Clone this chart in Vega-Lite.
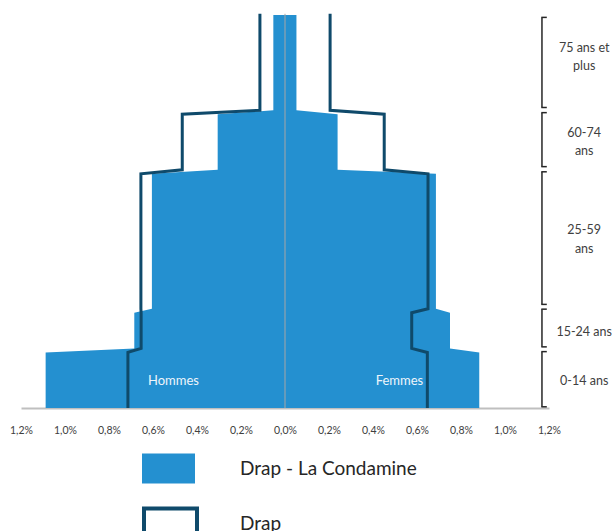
{
  "$schema": "https://vega.github.io/schema/vega-lite/v6.json",
  "width": 528,
  "height": 393,
  "autosize": {"type": "none"},
  "padding": {"left": 21, "top": 15, "right": 65, "bottom": 123},
  "background": "white",
  "config": {
    "view": {"stroke": null},
    "font": "Lato"
  },
  "datasets": {
    "pyramide": [
      {"serie": "Drap - La Condamine", "sexe": "Hommes", "age": 0, "pct": -1.088},
      {"serie": "Drap - La Condamine", "sexe": "Hommes", "age": 14, "pct": -1.088},
      {"serie": "Drap - La Condamine", "sexe": "Hommes", "age": 15, "pct": -0.685},
      {"serie": "Drap - La Condamine", "sexe": "Hommes", "age": 24, "pct": -0.685},
      {"serie": "Drap - La Condamine", "sexe": "Hommes", "age": 25, "pct": -0.605},
      {"serie": "Drap - La Condamine", "sexe": "Hommes", "age": 59, "pct": -0.605},
      {"serie": "Drap - La Condamine", "sexe": "Hommes", "age": 60, "pct": -0.306},
      {"serie": "Drap - La Condamine", "sexe": "Hommes", "age": 74, "pct": -0.306},
      {"serie": "Drap - La Condamine", "sexe": "Hommes", "age": 75, "pct": -0.053},
      {"serie": "Drap - La Condamine", "sexe": "Hommes", "age": 99, "pct": -0.053},
      {"serie": "Drap - La Condamine", "sexe": "Femmes", "age": 0, "pct": 0.883},
      {"serie": "Drap - La Condamine", "sexe": "Femmes", "age": 14, "pct": 0.883},
      {"serie": "Drap - La Condamine", "sexe": "Femmes", "age": 15, "pct": 0.75},
      {"serie": "Drap - La Condamine", "sexe": "Femmes", "age": 24, "pct": 0.75},
      {"serie": "Drap - La Condamine", "sexe": "Femmes", "age": 25, "pct": 0.686},
      {"serie": "Drap - La Condamine", "sexe": "Femmes", "age": 59, "pct": 0.686},
      {"serie": "Drap - La Condamine", "sexe": "Femmes", "age": 60, "pct": 0.239},
      {"serie": "Drap - La Condamine", "sexe": "Femmes", "age": 74, "pct": 0.239},
      {"serie": "Drap - La Condamine", "sexe": "Femmes", "age": 75, "pct": 0.052},
      {"serie": "Drap - La Condamine", "sexe": "Femmes", "age": 99, "pct": 0.052},
      {"serie": "Drap", "sexe": "Hommes", "age": 0, "pct": -0.714},
      {"serie": "Drap", "sexe": "Hommes", "age": 14, "pct": -0.714},
      {"serie": "Drap", "sexe": "Hommes", "age": 15, "pct": -0.654},
      {"serie": "Drap", "sexe": "Hommes", "age": 24, "pct": -0.654},
      {"serie": "Drap", "sexe": "Hommes", "age": 25, "pct": -0.655},
      {"serie": "Drap", "sexe": "Hommes", "age": 59, "pct": -0.655},
      {"serie": "Drap", "sexe": "Hommes", "age": 60, "pct": -0.467},
      {"serie": "Drap", "sexe": "Hommes", "age": 74, "pct": -0.467},
      {"serie": "Drap", "sexe": "Hommes", "age": 75, "pct": -0.114},
      {"serie": "Drap", "sexe": "Hommes", "age": 99.3, "pct": -0.114},
      {"serie": "Drap", "sexe": "Femmes", "age": 0, "pct": 0.647},
      {"serie": "Drap", "sexe": "Femmes", "age": 14, "pct": 0.647},
      {"serie": "Drap", "sexe": "Femmes", "age": 15, "pct": 0.576},
      {"serie": "Drap", "sexe": "Femmes", "age": 24, "pct": 0.576},
      {"serie": "Drap", "sexe": "Femmes", "age": 25, "pct": 0.65},
      {"serie": "Drap", "sexe": "Femmes", "age": 59, "pct": 0.65},
      {"serie": "Drap", "sexe": "Femmes", "age": 60, "pct": 0.451},
      {"serie": "Drap", "sexe": "Femmes", "age": 74, "pct": 0.451},
      {"serie": "Drap", "sexe": "Femmes", "age": 75, "pct": 0.205},
      {"serie": "Drap", "sexe": "Femmes", "age": 99.3, "pct": 0.205}
    ],
    "tranches": [
      {"tranche": "75 ans et\nplus", "debut": 75.7, "fin": 98.4, "age_label": 90.7},
      {"tranche": "60-74\nans", "debut": 60.8, "fin": 74.4, "age_label": 69.3},
      {"tranche": "25-59\nans", "debut": 26.1, "fin": 59.5, "age_label": 44.8},
      {"tranche": "15-24 ans", "debut": 15.4, "fin": 24.9, "age_label": 19.1},
      {"tranche": "0-14 ans", "debut": 0.3, "fin": 14.2, "age_label": 6.8}
    ],
    "sexes": [
      {"texte": "Hommes", "pct": -0.507, "age": 6.8},
      {"texte": "Femmes", "pct": 0.52, "age": 6.8}
    ]
  },
  "layer": [
    {
      "data": {"name": "pyramide"},
      "transform": [{"filter": "datum.serie === 'Drap - La Condamine'"}],
      "mark": {"type": "area", "orient": "horizontal", "opacity": 1},
      "encoding": {
        "y": {"field": "age", "type": "quantitative", "scale": {"domain": [0, 99], "nice": false, "zero": false}, "axis": null},
        "x": {"field": "pct", "type": "quantitative", "stack": null,
              "scale": {"domain": [-1.2, 1.2], "nice": false},
              "axis": {
                "values": [-1.2, -1.0, -0.8, -0.6, -0.4, -0.2, 0, 0.2, 0.4, 0.6, 0.8, 1.0, 1.2],
                "labelExpr": "replace(format(abs(datum.value), '.1f'), '.', ',') + '%'",
                "title": null,
                "grid": false,
                "ticks": false,
                "domainColor": "#BFBFBF",
                "domainWidth": 2,
                "labelFont": "Lato",
                "labelFontSize": 10.5,
                "labelColor": "#404040",
                "labelPadding": 17,
                "labelFlush": false,
                "labelOverlap": false
              }},
        "detail": {"field": "sexe"},
        "fill": {
          "field": "serie", "type": "nominal",
          "scale": {"domain": ["Drap - La Condamine"], "range": ["#2490D0"]},
          "legend": {
            "title": null,
            "orient": "none",
            "direction": "vertical",
            "legendX": 121,
            "legendY": 427,
            "padding": 0,
            "symbolType": "M-1,-0.566H1V0.566H-1Z",
            "symbolSize": 2809,
            "symbolStrokeWidth": 0,
            "symbolOpacity": 1,
            "labelFont": "Lato",
            "labelFontSize": 19,
            "labelColor": "#262626",
            "labelOffset": 45,
            "labelLimit": 0
          }
        }
      }
    },
    {
      "data": {"name": "pyramide"},
      "mark": {"type": "rule", "color": "#A6A6A6", "strokeWidth": 1},
      "transform": [{"filter": "datum.serie === 'Drap' && datum.sexe === 'Hommes' && (datum.age === 0 || datum.age > 99)"}],
      "encoding": {
        "x": {"datum": 0},
        "y": {"aggregate": "min", "field": "age", "type": "quantitative"},
        "y2": {"aggregate": "max", "field": "age"}
      }
    },
    {
      "data": {"name": "pyramide"},
      "transform": [{"filter": "datum.serie === 'Drap'"}],
      "mark": {"type": "line", "strokeWidth": 3, "strokeJoin": "miter", "strokeCap": "butt"},
      "encoding": {
        "y": {"field": "age", "type": "quantitative"},
        "x": {"field": "pct", "type": "quantitative"},
        "order": {"field": "age", "type": "quantitative"},
        "detail": {"field": "sexe"},
        "stroke": {
          "field": "serie", "type": "nominal",
          "scale": {"domain": ["Drap"], "range": ["#0F4A6B"]},
          "legend": {
            "title": null,
            "orient": "none",
            "direction": "vertical",
            "legendX": 121,
            "legendY": 480,
            "padding": 0,
            "symbolType": "M-1,-0.566H1V0.566H-1Z",
            "symbolSize": 2809,
            "symbolStrokeWidth": 4,
            "symbolFillColor": "#ffffff",
            "symbolOpacity": 1,
            "labelFont": "Lato",
            "labelFontSize": 19,
            "labelColor": "#262626",
            "labelOffset": 41,
            "labelLimit": 0
          }
        }
      }
    },
    {
      "data": {"name": "sexes"},
      "mark": {"type": "text", "color": "#EEF5FB", "fontSize": 13, "font": "Lato", "align": "center", "baseline": "middle"},
      "encoding": {
        "x": {"field": "pct", "type": "quantitative"},
        "y": {"field": "age", "type": "quantitative"},
        "text": {"field": "texte"}
      }
    },
    {
      "data": {"name": "tranches"},
      "mark": {"type": "rule", "color": "#262626", "strokeWidth": 1.5},
      "encoding": {
        "x": {"datum": 1.168},
        "y": {"field": "debut", "type": "quantitative"},
        "y2": {"field": "fin"}
      }
    },
    {
      "data": {"name": "tranches"},
      "mark": {"type": "rule", "color": "#262626", "strokeWidth": 1.5},
      "encoding": {
        "x": {"datum": 1.165},
        "x2": {"datum": 1.19},
        "y": {"field": "debut", "type": "quantitative"}
      }
    },
    {
      "data": {"name": "tranches"},
      "mark": {"type": "rule", "color": "#262626", "strokeWidth": 1.5},
      "encoding": {
        "x": {"datum": 1.165},
        "x2": {"datum": 1.19},
        "y": {"field": "fin", "type": "quantitative"}
      }
    },
    {
      "data": {"name": "tranches"},
      "mark": {"type": "text", "color": "#404040", "fontSize": 12.5, "font": "Lato", "align": "center", "baseline": "middle", "lineBreak": "\n", "lineHeight": 18.5},
      "encoding": {
        "x": {"datum": 1.36},
        "y": {"field": "age_label", "type": "quantitative"},
        "text": {"field": "tranche"}
      }
    }
  ]
}
